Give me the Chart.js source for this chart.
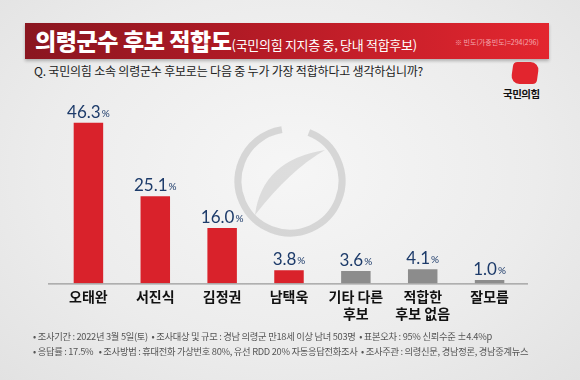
<!DOCTYPE html>
<html>
<head>
<meta charset="utf-8">
<script src="https://cdn.jsdelivr.net/npm/chart.js@4"></script>
<style>
  html, body { margin: 0; padding: 0; }
  body {
    width: 580px; height: 380px; overflow: hidden; position: relative;
    background: radial-gradient(ellipse at 50% 45%, #f6f6f6 0%, #ececec 60%, #e2e2e2 100%);
    font-family: "Noto Sans CJK KR", "Noto Sans", sans-serif;
  }
  #wrap { position: absolute; left: 0; top: 0; width: 580px; height: 380px; }
  .band {
    position: absolute; left: 25px; top: 23px; width: 524px; height: 36px;
    background: linear-gradient(90deg, #8a1620 0%, #b51b26 45%, #e3262f 100%);
    box-shadow: 0 2px 3px rgba(0,0,0,0.25);
  }
  .title {
    position: absolute; left: 35px; top: 22px; height: 36px; line-height: 36px;
    color: #fff; font-weight: 900; font-size: 23px; letter-spacing: -0.4px; white-space: nowrap;
  }
  .title small { font-size: 13px; font-weight: 400; letter-spacing: -0.3px; }
  .note { position: absolute; left: 455px; top: 37px; font-size: 7px; color: #f4a9ae; white-space: nowrap; }
  .q { position: absolute; left: 34px; top: 62px; font-size: 12px; color: #222; white-space: nowrap; letter-spacing: -0.2px; }
  .logo { position: absolute; left: 512px; top: 62px; width: 26px; height: 22px; background: #e2252e;
    border-radius: 4px 9px 4px 9px; transform: skewX(-8deg); }
  .logotxt { position: absolute; left: 503px; top: 86px; font-size: 10.5px; font-weight: 700; color: #111; white-space: nowrap; letter-spacing: -0.5px; }
  .foot { position: absolute; left: 33px; font-size: 9.3px; color: #555; white-space: nowrap; letter-spacing: -0.3px; }
</style>
</head>
<body>
<div class="band"></div>
<div class="title">의령군수 후보 적합도<small>(국민의힘 지지층 중, 당내 적합후보)</small></div>
<div class="note">※ 빈도(가중빈도)=294(296)</div>
<div class="q">Q. 국민의힘 소속 의령군수 후보로는 다음 중 누가 가장 적합하다고 생각하십니까?</div>
<div class="logo"></div>
<div class="logotxt">국민의힘</div>
<div id="wrap"><canvas id="myChart" width="580" height="380"></canvas></div>
<div class="foot" style="top:329px">• 조사기간 : 2022년 3월 5일(토) &nbsp;• 조사대상 및 규모 : 경남 의령군 만18세 이상 남녀 503명 &nbsp;• 표본오차 : 95% 신뢰수준 ±4.4%p</div>
<div class="foot" style="top:344px">• 응답률 : 17.5% &nbsp;&nbsp;• 조사방법 : 휴대전화 가상번호 80%, 유선 RDD 20% 자동응답전화조사 &nbsp;• 조사주관 : 의령신문, 경남정론, 경남중계뉴스</div>
<script>
const labels = ['오태완', '서진식', '김정권', '남택욱', ['기타 다른', '후보'], ['적합한', '후보 없음'], '잘모름'];
const values = [46.3, 25.1, 16.0, 3.8, 3.6, 4.1, 1.0];
const kinds = ['red', 'red', 'red', 'red', 'gray', 'gray', 'gray'];

const ctx = document.getElementById('myChart');

function barFill(context) {
  const chart = context.chart;
  const el = chart.getDatasetMeta(0).data[context.dataIndex];
  const kind = kinds[context.dataIndex];
  if (!el || !el.width) return kind === 'red' ? '#d9222b' : '#8c8c8c';
  const x0 = el.x - el.width / 2, x1 = el.x + el.width / 2;
  const g = chart.ctx.createLinearGradient(x0, 0, x1, 0);
  if (kind === 'red') {
    g.addColorStop(0, '#b3141d');
    g.addColorStop(0.35, '#e5303a');
    g.addColorStop(0.7, '#d3202a');
    g.addColorStop(1, '#a5121a');
  } else {
    g.addColorStop(0, '#7a7a7a');
    g.addColorStop(0.4, '#9a9a9a');
    g.addColorStop(1, '#757575');
  }
  return g;
}

const decor = {
  id: 'decor',
  beforeDatasetsDraw(chart) {
    const c = chart.ctx;
    c.save();
    c.strokeStyle = 'rgba(190,190,190,0.55)';
    c.lineWidth = 7;
    c.beginPath();
    c.arc(290, 181, 52, -1.2, Math.PI * 1.45, false);
    c.stroke();
    c.fillStyle = 'rgba(190,190,190,0.45)';
    c.beginPath();
    c.moveTo(255, 215);
    c.quadraticCurveTo(262, 160, 325, 150);
    c.quadraticCurveTo(290, 170, 255, 215);
    c.fill();
    c.restore();
  },
  afterDatasetsDraw(chart) {
    const c = chart.ctx;
    const y = chart.scales.y.getPixelForValue(0);
    c.save();
    c.strokeStyle = '#9a9a9a';
    c.lineWidth = 1.2;
    c.beginPath();
    c.moveTo(48, y + 0.5);
    c.lineTo(528, y + 0.5);
    c.stroke();
    c.fillStyle = '#1d3b6a';
    c.textBaseline = 'alphabetic';
    chart.getDatasetMeta(0).data.forEach((bar, i) => {
      const num = values[i].toFixed(1);
      c.font = '17px Lato, "Noto Sans", sans-serif';
      const w1 = c.measureText(num).width;
      c.font = '10px Lato, "Noto Sans", sans-serif';
      const w2 = c.measureText('%').width + 1;
      const start = bar.x - (w1 + w2) / 2;
      c.font = '17px Lato, "Noto Sans", sans-serif';
      c.textAlign = 'left';
      c.fillText(num, start, bar.y - 5);
      c.font = '10px Lato, "Noto Sans", sans-serif';
      c.fillText('%', start + w1 + 1, bar.y - 6);
    });
    c.restore();
  }
};

new Chart(ctx, {
  type: 'bar',
  data: {
    labels: labels,
    datasets: [{
      data: values,
      backgroundColor: barFill,
      borderWidth: 0,
      barPercentage: 0.9,
      categoryPercentage: 0.49
    }]
  },
  options: {
    responsive: false,
    animation: false,
    layout: { padding: { left: 55, right: 57, top: 110, bottom: 53 } },
    plugins: { legend: { display: false }, tooltip: { enabled: false } },
    scales: {
      x: {
        grid: { display: false, drawTicks: false },
        border: { display: false },
        ticks: {
          padding: 5,
          color: '#111',
          font: { family: '"Noto Sans CJK KR", sans-serif', size: 14, weight: 'bold', lineHeight: 1.2 },
          maxRotation: 0, autoSkip: false
        }
      },
      y: {
        display: false,
        min: 0,
        max: 50
      }
    }
  },
  plugins: [decor]
});
</script>
</body>
</html>
